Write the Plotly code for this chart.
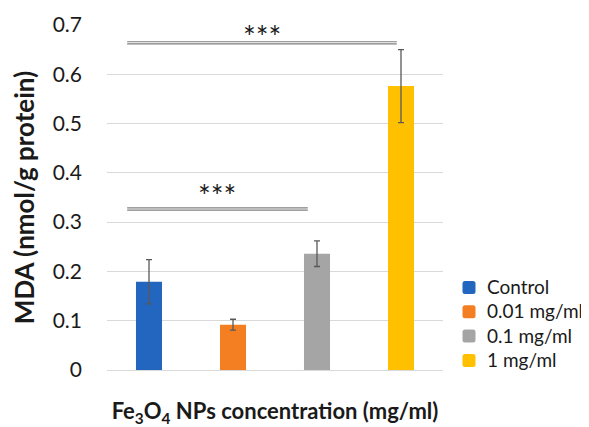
import plotly.graph_objects as go

categories = ["Control", "0.01 mg/ml", "0.1 mg/ml", "1 mg/ml"]
mda_values = [0.179, 0.092, 0.236, 0.576]
mda_errors = [0.045, 0.011, 0.026, 0.074]
bar_colors = ["#2366BF", "#F47F22", "#A5A5A5", "#FFC000"]
y_ticks = [0, 0.1, 0.2, 0.3, 0.4, 0.5, 0.6, 0.7]
y_tick_labels = ["0", "0.1", "0.2", "0.3", "0.4", "0.5", "0.6", "0.7"]

# significance brackets: (x start, x end, line y, star y, label)
sig_brackets = [(-0.26, 2.95, 0.666, 0.678, "***"), (-0.26, 1.89, 0.329, 0.355, "***")]

FONT = "Lato, Open Sans, sans-serif"
TEXT = "#1a1a1a"

# the page body adds an 8px offset, so the figure is 8px smaller
W, H = 581, 419
ML, MR, MT, MB = 99, 146, 17, 57
PW, PH = W - ML - MR, H - MT - MB

fig = go.Figure()
for i, (cat, val, err, col) in enumerate(zip(categories, mda_values, mda_errors, bar_colors)):
    fig.add_trace(go.Bar(
        x=[i], y=[val], name=cat, marker_color=col, marker_line_width=0,
        width=0.31, showlegend=False,
        error_y=dict(type="data", array=[err], visible=True,
                     color="#595959", thickness=1.3, width=3),
    ))

shapes = []
annotations = []
for x0, x1, y, ys, label in sig_brackets:
    for dy in (0.0, -0.0045):
        shapes.append(dict(type="line", xref="x", yref="y", x0=x0, x1=x1,
                           y0=y + dy, y1=y + dy,
                           line=dict(color="#7f7f7f", width=1.2)))
    annotations.append(dict(x=(x0 + x1) / 2, y=ys, xref="x", yref="y",
                            text=label, showarrow=False, yanchor="middle",
                            font=dict(family=FONT, size=30, color=TEXT)))

# manual legend (rounded square swatches + labels), positioned in pixels
leg_marker_cx = 461   # px from figure left
leg_text_x = 477
leg_first_cy = 279.5  # px from figure top
leg_step = 24.3
half = 6.5
rad = 2.5

def px_x(px):
    return (px - ML) / PW

def px_y(py):
    return (H - MB - py) / PH

for k, (cat, col) in enumerate(zip(categories, bar_colors)):
    cy = leg_first_cy + k * leg_step
    l, r = leg_marker_cx - half, leg_marker_cx + half
    t, b = cy - half, cy + half
    pts = [
        f"M {px_x(l + rad)} {px_y(t)}",
        f"L {px_x(r - rad)} {px_y(t)}",
        f"Q {px_x(r)} {px_y(t)} {px_x(r)} {px_y(t + rad)}",
        f"L {px_x(r)} {px_y(b - rad)}",
        f"Q {px_x(r)} {px_y(b)} {px_x(r - rad)} {px_y(b)}",
        f"L {px_x(l + rad)} {px_y(b)}",
        f"Q {px_x(l)} {px_y(b)} {px_x(l)} {px_y(b - rad)}",
        f"L {px_x(l)} {px_y(t + rad)}",
        f"Q {px_x(l)} {px_y(t)} {px_x(l + rad)} {px_y(t)} Z",
    ]
    shapes.append(dict(type="path", xref="paper", yref="paper", path=" ".join(pts),
                       fillcolor=col, line=dict(width=0)))
    annotations.append(dict(x=px_x(leg_text_x), y=px_y(cy - 1), xref="paper", yref="paper",
                            text=cat, showarrow=False, xanchor="left", yanchor="middle",
                            font=dict(family=FONT, size=19, color=TEXT)))

fig.update_layout(
    width=W, height=H,
    margin=dict(l=ML, r=MR, t=MT, b=MB),
    paper_bgcolor="white", plot_bgcolor="white",
    barmode="overlay",
    font=dict(family=FONT, color=TEXT),
    showlegend=False,
    shapes=shapes,
    annotations=annotations,
    xaxis=dict(range=[-0.5, 3.5], showticklabels=False, showgrid=False,
               zeroline=False, showline=False, automargin=False,
               title=dict(text="<b>Fe<sub>3</sub>O<sub>4</sub> NPs concentration (mg/ml)</b>",
                          font=dict(family=FONT, size=22, color=TEXT), standoff=41)),
    yaxis=dict(range=[0, 0.7], tickvals=y_ticks, ticktext=y_tick_labels,
               showgrid=True, gridcolor="#d9d9d9", gridwidth=1.2,
               zeroline=True, zerolinecolor="#d9d9d9", zerolinewidth=1.2,
               tickfont=dict(family=FONT, size=21, color=TEXT),
               ticks="", ticklabelstandoff=24, automargin=False,
               title=dict(text="<b>MDA (nmol/g protein)</b>",
                          font=dict(family=FONT, size=26, color=TEXT), standoff=11)),
)

fig.write_html("out.html")
